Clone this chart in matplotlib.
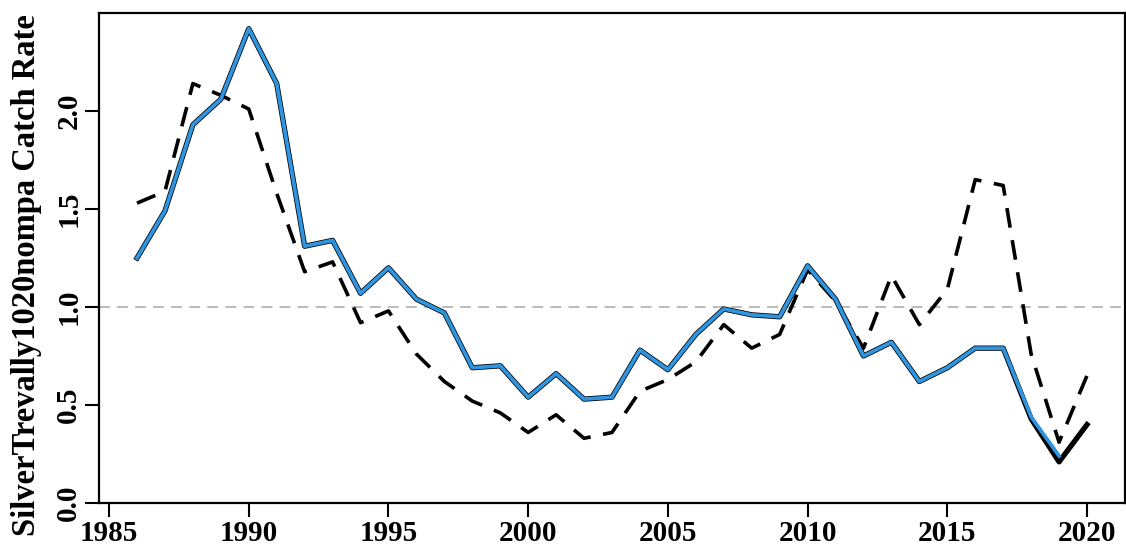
import matplotlib
matplotlib.use("Agg")
import matplotlib.pyplot as plt

years = list(range(1986, 2021))
main_black = [1.25, 1.49, 1.93, 2.06, 2.42, 2.14, 1.31, 1.34, 1.07, 1.20,
              1.04, 0.97, 0.69, 0.70, 0.54, 0.66, 0.53, 0.54, 0.78, 0.68,
              0.86, 0.99, 0.96, 0.95, 1.21, 1.04, 0.75, 0.82, 0.62, 0.69,
              0.79, 0.79, 0.43, 0.21, 0.40]
blue_years = list(range(1986, 2020))
main_blue = [1.25, 1.49, 1.93, 2.06, 2.42, 2.14, 1.31, 1.34, 1.07, 1.20,
             1.04, 0.97, 0.69, 0.70, 0.54, 0.66, 0.53, 0.54, 0.78, 0.68,
             0.86, 0.99, 0.96, 0.95, 1.21, 1.04, 0.75, 0.82, 0.62, 0.69,
             0.79, 0.79, 0.44, 0.24]
dashed = [1.53, 1.59, 2.14, 2.08, 2.01, 1.58, 1.18, 1.23, 0.92, 0.98,
          0.76, 0.62, 0.52, 0.46, 0.36, 0.45, 0.33, 0.36, 0.57, 0.63,
          0.72, 0.91, 0.79, 0.86, 1.19, 1.03, 0.79, 1.16, 0.91, 1.09,
          1.65, 1.62, 0.76, 0.31, 0.65]
x_ticks = [1985, 1990, 1995, 2000, 2005, 2010, 2015, 2020]
y_ticks = [0.0, 0.5, 1.0, 1.5, 2.0]
y_label = "SilverTrevally1020nompa Catch Rate"

plt.rcParams['font.family'] = ['Liberation Serif', 'DejaVu Serif']
plt.rcParams['font.weight'] = 'bold'

fig = plt.figure(figsize=(11.26, 5.55), dpi=100)
ax = fig.add_axes([99/1126, 1 - 503/555, (1125-99)/1126, (503-13)/555])

ax.axhline(1.0, color='#b5b5b5', lw=1.3, ls=(0, (6, 4)), zorder=1)
ax.plot(years, dashed, color='black', lw=2.6, ls=(0, (5.5, 3.5)), zorder=2)
ax.plot(years, main_black, color='black', lw=3.8, zorder=3)
ax.plot(blue_years, main_blue, color='#3095e0', lw=2.7, zorder=4)

ax.set_xlim(1984.64, 2021.36)
ax.set_ylim(0, 2.5)
ax.set_xticks(x_ticks)
ax.set_xticklabels([str(v) for v in x_ticks])
ax.set_yticks(y_ticks)
ax.set_yticklabels([f"{v:.1f}" for v in y_ticks], rotation=90, va='center')
ax.tick_params(axis='both', direction='out', length=10, width=1.5, pad=2,
               labelsize=21)
for lab in ax.get_xticklabels() + ax.get_yticklabels():
    lab.set_fontweight('bold')
for s in ax.spines.values():
    s.set_linewidth(1.6)
ax.set_ylabel(y_label, fontsize=23.5, fontweight='bold', va='center')
ax.yaxis.set_label_coords(-0.071, 0.465)

fig.savefig("out.png", dpi=100)
